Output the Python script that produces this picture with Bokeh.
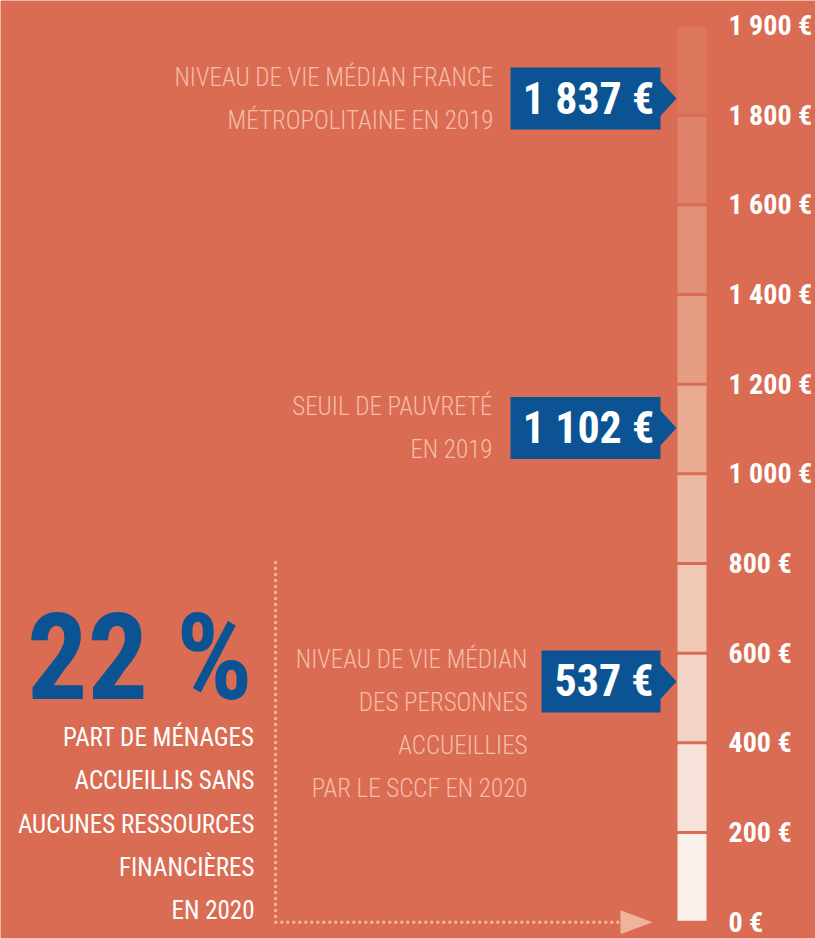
from bokeh.plotting import figure
from bokeh.models import Range1d
from bokeh.core.properties import value
from bokeh.embed import file_html
from bokeh.resources import INLINE

# ---------------- data ----------------
tick_values = [0, 200, 400, 600, 800, 1000, 1200, 1400, 1600, 1800, 2000]
tick_labels = ["0 €", "200 €", "400 €", "600 €", "800 €", "1 000 €", "1 200 €",
               "1 400 €", "1 600 €", "1 800 €", "1 900 €"]
band_starts = [0, 200, 400, 600, 800, 1000, 1200, 1400, 1600, 1800]
band_ends = [200, 400, 600, 800, 1000, 1200, 1400, 1600, 1800, 2000]
marker_values = [1837, 1102, 537]
marker_labels = ["1 837 €", "1 102 €", "537 €"]
marker_notes = [
    ["NIVEAU DE VIE MÉDIAN FRANCE", "MÉTROPOLITAINE EN 2019"],
    ["SEUIL DE PAUVRETÉ", "EN 2019"],
    ["NIVEAU DE VIE MÉDIAN", "DES PERSONNES", "ACCUEILLIES", "PAR LE SCCF EN 2020"],
]
share_value = 22
share_lines = ["PART DE MÉNAGES", "ACCUEILLIS SANS", "AUCUNES RESSOURCES",
               "FINANCIÈRES", "EN 2020"]

# ---------------- styles ----------------
BG = "#DA6C53"
BLUE = "#0B5392"
NOTE = "#F5BEA8"
DOT = "#F0B39D"
band_colors = ["#FAF1EC", "#F7E3D9", "#F3D5C7", "#F0C8B5", "#ECBAA3",
               "#E8AB92", "#E59E84", "#E29077", "#DF836A", "#DC765D"]

F_BOLD = value("Roboto Condensed")
F_LIGHT = value("Roboto Condensed Light, Roboto Condensed")

W, H = 815, 938
PX = 0.44835          # pixels per euro
Y0 = 921.7            # pixel row of 0 €


def yv(y_pix):
    return (Y0 - y_pix) / PX


def dpx(n):
    return n / PX


p = figure(width=W, height=H,
           x_range=Range1d(0, W), y_range=Range1d(yv(H), yv(0)),
           toolbar_location=None, output_backend="svg",
           min_border=0, min_border_left=0, min_border_right=0,
           min_border_top=0, min_border_bottom=0,
           background_fill_color=BG, border_fill_color=BG,
           outline_line_color=None)
p.grid.visible = False
p.axis.visible = False

# scale bar
gap = dpx(1.5)
p.quad(left=677, right=706,
       bottom=[s + gap for s in band_starts], top=[e - gap for e in band_ends],
       fill_color=band_colors, line_color=None)

# scale labels
p.text(x=[728] * len(tick_values), y=tick_values, text=tick_labels,
       text_color="white", text_font=F_BOLD, text_font_style="bold",
       text_font_size="28px", text_align="left", text_baseline="middle")

# markers
box_left = [510, 510, 541]
note_right = [493, 492, 527]
xs, ys = [], []
bx, by = [], []
nx, ny, nt = [], [], []
for i, v in enumerate(marker_values):
    L, R, T = box_left[i], 660, 676
    h, n = dpx(31), dpx(17.5)
    xs.append([L, R, R, T, R, R, L])
    ys.append([v + h, v + h, v + n, v, v - n, v - h, v - h])
    bx.append((L + R) / 2 + 3)
    by.append(v)
    for k, line in enumerate(marker_notes[i]):
        nx.append(note_right[i])
        ny.append(v + dpx(21.5) - dpx(43) * k)
        nt.append(line)

p.patches(xs, ys, fill_color=BLUE, line_color=None)
p.text(x=bx, y=by, text=marker_labels, text_color="white", text_font=F_BOLD,
       text_font_style="bold", text_font_size="44px",
       text_align="center", text_baseline="middle")
p.text(x=nx, y=ny, text=nt, text_color=NOTE, text_font=F_LIGHT,
       text_font_size="25px", text_align="right", text_baseline="middle")

# share block
p.text(x=[252], y=[yv(657)], text=[f"{share_value} %"], text_color=BLUE,
       text_font=F_BOLD, text_font_style="bold", text_font_size="120px",
       text_align="right", text_baseline="middle")
p.text(x=[254] * len(share_lines),
       y=[yv(736.7 + 43.4 * k) for k in range(len(share_lines))],
       text=share_lines, text_color="white", text_font=F_BOLD,
       text_font_size="25px", text_align="right", text_baseline="middle")

# dotted connector to 0 €
p.line(x=[275, 275, 618], y=[yv(562), 0, 0], line_color=DOT,
       line_width=3.5, line_dash="0 6", line_cap="round")
p.patch(x=[620, 652, 620], y=[dpx(12), 0, -dpx(12)],
        fill_color=DOT, line_color=None)

open("out.html", "w").write(file_html(p, INLINE))
